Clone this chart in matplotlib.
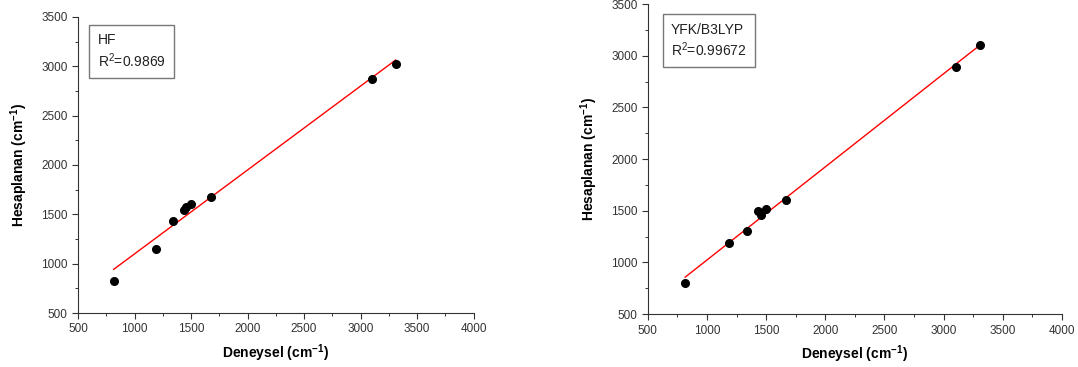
import matplotlib.pyplot as plt
import numpy as np
from matplotlib.ticker import MultipleLocator

plt.rcParams['font.family'] = ['Liberation Sans', 'DejaVu Sans']
plt.rcParams['mathtext.default'] = 'regular'

# experimental wavenumbers (cm-1)
deneysel = [815, 1190, 1340, 1435, 1458, 1500, 1672, 3103, 3310]
# calculated, HF
hf = [828, 1145, 1435, 1545, 1572, 1600, 1678, 2867, 3026]
# calculated, DFT/B3LYP
b3lyp = [797, 1193, 1300, 1496, 1460, 1515, 1602, 2895, 3105]

labels = ['HF', 'YFK/B3LYP']
r2 = ['0.9869', '0.99672']

fig = plt.figure(figsize=(10.78, 3.67), dpi=100)
ax1 = fig.add_axes([0.0724, 0.147, 0.367, 0.807])
ax2 = fig.add_axes([0.601, 0.144, 0.384, 0.845])

box_pos = [(0.05, 0.945), (0.056, 0.94)]

for ax, yy, lab, r, bp in zip([ax1, ax2], [hf, b3lyp], labels, r2, box_pos):
    x = np.array(deneysel)
    y = np.array(yy)
    a, b = np.polyfit(x, y, 1)
    xl = np.array([x.min(), x.max()])
    ax.plot(xl, a * xl + b, color='red', lw=1.0)
    ax.plot(x, y, 'o', color='black', ms=5.5)

    ax.set_xlim(500, 4000)
    ax.set_ylim(500, 3500)
    ax.xaxis.set_major_locator(MultipleLocator(500))
    ax.yaxis.set_major_locator(MultipleLocator(500))
    ax.xaxis.set_minor_locator(MultipleLocator(250))
    ax.yaxis.set_minor_locator(MultipleLocator(250))
    ax.tick_params(which='major', direction='out', length=4, width=0.8,
                   labelsize=8.5, colors='#333333')
    ax.tick_params(which='minor', direction='out', length=2.5, width=0.7,
                   colors='#333333')
    for s in ['top', 'right']:
        ax.spines[s].set_visible(False)
    for s in ['left', 'bottom']:
        ax.spines[s].set_color('#333333')

    ax.set_xlabel('Deneysel (cm$^{-1}$)', fontsize=10, fontweight='bold', labelpad=5)
    ax.set_ylabel('Hesaplanan (cm$^{-1}$)', fontsize=10, fontweight='bold', labelpad=8)

    ax.text(bp[0], bp[1], lab + '\nR$^{2}$=' + r, transform=ax.transAxes,
            ha='left', va='top', fontsize=10, color='#222222', linespacing=1.25,
            bbox=dict(boxstyle='square,pad=0.6', fc='white', ec='#777777', lw=1))

fig.savefig('out.png', dpi=100)
